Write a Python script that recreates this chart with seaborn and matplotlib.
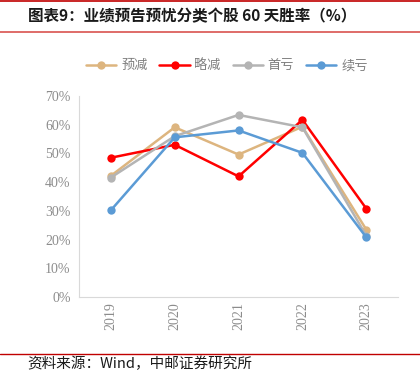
import pandas as pd
import matplotlib.pyplot as plt
import seaborn as sns
from matplotlib.lines import Line2D

years = ["2019", "2020", "2021", "2022", "2023"]
series_names = ["预减", "略减", "首亏", "续亏"]
yujian = [42.2, 59.1, 49.6, 59.3, 23.5]
luejian = [48.5, 53.0, 42.0, 61.7, 30.8]
shoukui = [41.6, 56.0, 63.4, 59.1, 21.4]
xukui = [30.2, 55.6, 58.0, 50.2, 20.8]

colors = {"预减": "#DDB57F", "略减": "#FF0000", "首亏": "#B4B4B4", "续亏": "#5B9BD5"}

rows = []
for name, vals in zip(series_names, [yujian, luejian, shoukui, xukui]):
    for i, v in enumerate(vals):
        rows.append({"x": i, "value": v, "series": name})
df = pd.DataFrame(rows)

sns.set_style("white")
plt.rcParams['font.family'] = ['Noto Sans CJK SC', 'DejaVu Sans']

fig = plt.figure(figsize=(4.2, 3.72), dpi=100)
ax = fig.add_axes([0.188, 0.2016, 0.760, 0.5404])

sns.lineplot(data=df, x="x", y="value", hue="series", hue_order=series_names,
             palette=colors, marker="o", markersize=6, markeredgewidth=0,
             linewidth=1.8, ax=ax, legend=False)

ax.set_xlim(-0.5, 4.5)
ax.set_ylim(0, 70)
ax.set_xlabel("")
ax.set_ylabel("")

tick_font = {"family": "Liberation Serif", "size": 10, "color": "#8C8C8C"}
ax.set_yticks(range(0, 71, 10))
ax.set_yticklabels([f"{v}%" for v in range(0, 71, 10)], fontdict=tick_font)
ax.set_xticks(range(5))
ax.set_xticklabels(years, fontdict=tick_font, rotation=90)
ax.set_xticks([i - 0.5 for i in range(6)], minor=True)
ax.tick_params(axis="x", which="major", length=0, pad=4)
ax.tick_params(axis="x", which="minor", length=4, color="#D9D9D9", width=0.8, direction="out")
ax.tick_params(axis="y", length=4, color="#D9D9D9", width=0.8, direction="out", pad=2)

for side in ["top", "right"]:
    ax.spines[side].set_visible(False)
for side in ["left", "bottom"]:
    ax.spines[side].set_color("#D9D9D9")
    ax.spines[side].set_linewidth(0.8)

handles = [Line2D([0], [0], color=colors[n], lw=1.8, marker="o", markersize=6,
                  markeredgewidth=0) for n in series_names]
leg = fig.legend(handles, series_names, loc="center", bbox_to_anchor=(0.54, 0.823),
                 ncol=4, frameon=False, handlelength=2.3, columnspacing=0.9,
                 handletextpad=0.35, prop={"family": "Noto Sans CJK SC", "size": 9.5})
for t in leg.get_texts():
    t.set_color("#7F7F7F")

# title band
fig.add_artist(Line2D([0, 1], [0.997, 0.997], color="#C00000", lw=1.2))
fig.text(0.066, 0.955, "图表9：业绩预告预忧分类个股 60 天胜率（%）", fontsize=11.2,
         fontweight="bold", va="center", ha="left", color="#1A1A1A")
fig.add_artist(Line2D([0, 1], [0.915, 0.915], color="#D9534F", lw=1.2))

# footer
fig.add_artist(Line2D([0, 1], [0.048, 0.048], color="#C00000", lw=1.0))
fig.text(0.066, 0.003, "资料来源：Wind，中邮证券研究所", fontsize=10.5,
         va="bottom", ha="left", color="#1A1A1A")

fig.savefig("out.png", dpi=100)
